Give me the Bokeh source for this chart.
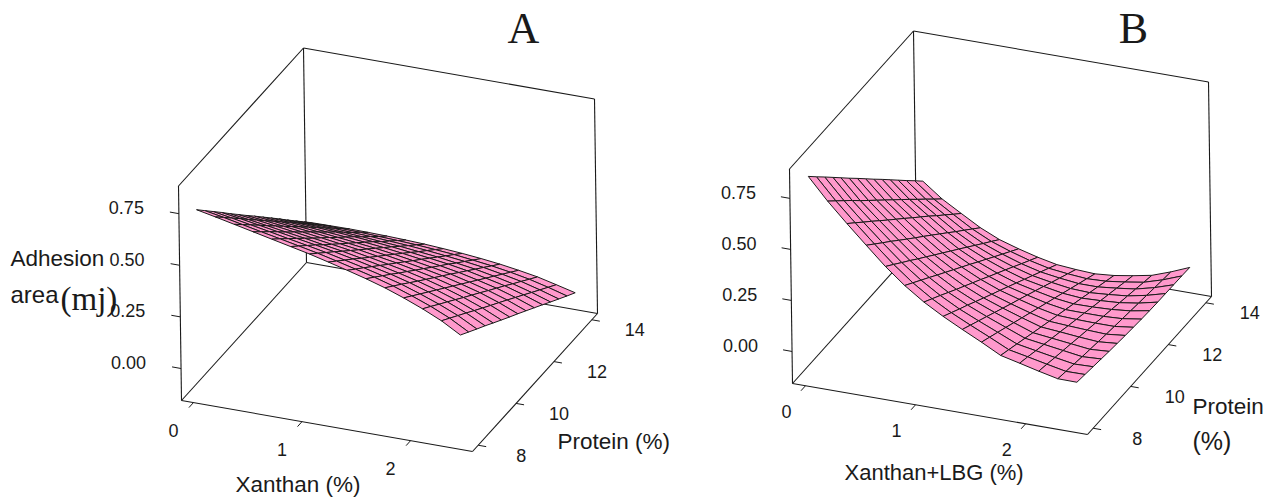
from bokeh.plotting import figure
from bokeh.embed import file_html
from bokeh.resources import INLINE
from bokeh.core.properties import value

xanthan_levels = [0.0, 0.173, 0.346, 0.519, 0.691, 0.864, 1.037, 1.21, 1.383, 1.556, 1.729, 1.901, 2.074, 2.247, 2.42]
protein_levels = [8.0, 8.43, 8.86, 9.29, 9.71, 10.14, 10.57, 11.0, 11.43, 11.86, 12.29, 12.71, 13.14, 13.57, 14.0]

# one row per xanthan level, one value per protein level
adhesion_a = [
    [.749, .701, .653, .605, .557, .509, .461, .414, .366, .318, .270, .222, .174, .126, .078],
    [.730, .684, .637, .591, .544, .498, .451, .405, .358, .312, .265, .219, .172, .126, .079],
    [.710, .665, .620, .575, .530, .485, .440, .395, .350, .305, .260, .215, .170, .125, .080],
    [.690, .646, .603, .559, .515, .472, .428, .385, .341, .297, .254, .210, .166, .123, .079],
    [.670, .628, .585, .543, .501, .458, .416, .374, .331, .289, .247, .204, .162, .119, .077],
    [.650, .609, .568, .527, .485, .444, .403, .362, .321, .280, .239, .197, .156, .115, .074],
    [.630, .590, .550, .510, .470, .430, .390, .350, .310, .270, .230, .190, .150, .110, .070],
    [.607, .568, .529, .491, .452, .413, .374, .336, .297, .258, .219, .180, .142, .103, .064],
    [.583, .545, .508, .470, .433, .395, .358, .320, .282, .245, .207, .170, .132, .095, .057],
    [.558, .522, .485, .449, .412, .376, .339, .303, .266, .230, .194, .157, .121, .084, .048],
    [.530, .495, .460, .424, .389, .354, .319, .284, .249, .213, .178, .143, .108, .072, .037],
    [.497, .463, .429, .395, .362, .328, .294, .260, .226, .192, .158, .125, .091, .057, .023],
    [.460, .428, .395, .363, .331, .298, .266, .234, .201, .169, .137, .104, .072, .039, .007],
    [.418, .387, .356, .325, .294, .263, .232, .202, .171, .140, .109, .078, .047, .016, -.015],
    [.365, .336, .307, .279, .250, .221, .192, .164, .135, .106, .077, .048, .019, -.010, -.038],
]
adhesion_b = [
    [.838, .792, .747, .701, .656, .610, .565, .519, .473, .428, .382, .337, .291, .246, .200],
    [.733, .690, .647, .604, .560, .517, .474, .431, .388, .345, .302, .259, .216, .172, .129],
    [.639, .599, .558, .518, .478, .437, .397, .357, .316, .276, .236, .195, .155, .114, .074],
    [.549, .511, .473, .436, .398, .360, .322, .285, .247, .209, .171, .133, .096, .058, .020],
    [.461, .427, .392, .358, .323, .289, .254, .220, .185, .151, .116, .082, .047, .013, -.022],
    [.384, .353, .322, .291, .260, .229, .198, .167, .136, .104, .073, .042, .011, -.020, -.051],
    [.319, .291, .263, .234, .206, .178, .150, .122, .093, .065, .037, .009, -.020, -.048, -.076],
    [.265, .239, .213, .188, .162, .136, .110, .085, .059, .033, .007, -.018, -.044, -.070, -.096],
    [.217, .194, .171, .148, .125, .102, .079, .057, .034, .011, -.012, -.035, -.058, -.081, -.104],
    [.171, .151, .131, .111, .091, .071, .051, .031, .011, -.009, -.029, -.049, -.069, -.089, -.109],
    [.122, .106, .090, .074, .058, .042, .026, .011, -.005, -.021, -.037, -.053, -.069, -.085, -.101],
    [.100, .087, .073, .060, .047, .034, .020, .007, -.006, -.020, -.033, -.046, -.059, -.073, -.086],
    [.077, .067, .056, .046, .036, .025, .015, .005, -.006, -.016, -.027, -.037, -.047, -.058, -.068],
    [.056, .048, .040, .032, .025, .018, .011, .005, -.001, -.007, -.013, -.018, -.024, -.030, -.035],
    [.055, .049, .043, .037, .031, .026, .021, .017, .013, .010, .008, .007, .006, .005, .003],
]
x_ticks = [0, 1, 2]
protein_ticks = [8, 10, 12, 14]
z_ticks = [0.0, 0.25, 0.5, 0.75]
z_labels = ["0.00", "0.25", "0.50", "0.75"]

INK = "#1a1a1a"
SANS = "Liberation Sans"
SERIF = "Liberation Serif"

p = figure(width=1273, height=499, x_range=(0, 1273), y_range=(499, 0),
           output_backend="svg", toolbar_location=None, min_border=0,
           outline_line_color=None, x_axis_type=None, y_axis_type=None)
p.xgrid.visible = False
p.ygrid.visible = False


def panel(origin, vx, vp, vz, xlim, plim, zlim, grid, xoff, poff, zoff):
    def proj(x, pr, z):
        a = (x - xlim[0]) / (xlim[1] - xlim[0])
        b = (pr - plim[0]) / (plim[1] - plim[0])
        c = (z - zlim[0]) / (zlim[1] - zlim[0])
        return (origin[0] + a * vx[0] + b * vp[0] + c * vz[0],
                origin[1] + a * vx[1] + b * vp[1] + c * vz[1])

    x0, x1 = xlim
    p0, p1 = plim
    z0, z1 = zlim
    box = [
        ((x0, p0, z0), (x1, p0, z0)), ((x1, p0, z0), (x1, p1, z0)),
        ((x1, p1, z0), (x0, p1, z0)), ((x0, p1, z0), (x0, p0, z0)),
        ((x0, p0, z0), (x0, p0, z1)), ((x0, p1, z0), (x0, p1, z1)),
        ((x1, p1, z0), (x1, p1, z1)), ((x0, p0, z1), (x0, p1, z1)),
        ((x0, p1, z1), (x1, p1, z1)),
    ]
    xs, ys = [], []
    for a, b in box:
        ax, ay = proj(*a)
        bx, by = proj(*b)
        xs.append([ax, bx])
        ys.append([ay, by])
    p.multi_line(xs, ys, line_color=INK, line_width=1.1)

    # ticks and their labels
    txs, tys = [], []
    for t, lab in zip(z_ticks, z_labels):
        ax, ay = proj(x0, p0, t)
        txs.append([ax, ax - 9])
        tys.append([ay, ay - 1.6])
        p.text([ax + zoff[0]], [ay + zoff[1]], text=[lab], text_font=value(SANS), text_font_size="18px",
               text_align="right", text_baseline="middle", text_color=INK)
    for t in x_ticks:
        ax, ay = proj(t, p0, z0)
        txs.append([ax, ax - 4.5])
        tys.append([ay, ay + 5])
        p.text([ax + xoff[0]], [ay + xoff[1]], text=[str(t)], text_font=value(SANS), text_font_size="18px",
               text_align="center", text_baseline="middle", text_color=INK)
    for t in protein_ticks:
        ax, ay = proj(x1, t, z0)
        txs.append([ax, ax + 8])
        tys.append([ay, ay + 1.4])
        p.text([ax + poff[0]], [ay + poff[1]], text=[str(t)], text_font=value(SANS), text_font_size="18px",
               text_align="center", text_baseline="middle", text_color=INK)
    p.multi_line(txs, tys, line_color=INK, line_width=1)

    # surface, far cells first
    cx, cy = [], []
    n = len(xanthan_levels)
    m = len(protein_levels)
    for j in range(m - 2, -1, -1):
        for i in range(n - 1):
            corners = [(i, j), (i + 1, j), (i + 1, j + 1), (i, j + 1)]
            pts = [proj(xanthan_levels[a], protein_levels[b], grid[a][b]) for a, b in corners]
            cx.append([q[0] for q in pts])
            cy.append([q[1] for q in pts])
    p.patches(cx, cy, fill_color="#FF99CC", line_color="#1a1a1a", line_width=1)


panel((181, 400), (291, 51), (125, -138), (-3, -214.5),
      (-0.11, 2.57), (7.7, 14.3), (-0.155, 0.884), adhesion_a,
      (-20, 28), (43, 10), (-35, -6))
panel((792, 383), (295, 51), (124, -138), (-3, -214.5),
      (-0.118, 2.562), (7.7, 14.3), (-0.157, 0.894), adhesion_b,
      (-19, 26), (44, 10), (-34, -6))


def label(x, y, s, size=23, font=SANS, align="left"):
    p.text([x], [y], text=[s], text_font=value(font), text_font_size=f"{size}px",
           text_align=align, text_baseline="middle", text_color=INK)


label(523, 28, "A", 44, SERIF, "center")
label(1133, 28, "B", 44, SERIF, "center")
label(10, 258, "Adhesion", 22.5)
label(10, 294, "area", 24)
label(60, 298, "(mj)", 33, SERIF)
label(235, 484, "Xanthan (%)", 22.5)
label(557, 441, "Protein (%)", 22.5)
label(844, 472, "Xanthan+LBG (%)", 22)
label(1192, 406, "Protein", 22.5)
label(1192, 440, "(%)", 25)

open("out.html", "w").write(file_html(p, INLINE))
